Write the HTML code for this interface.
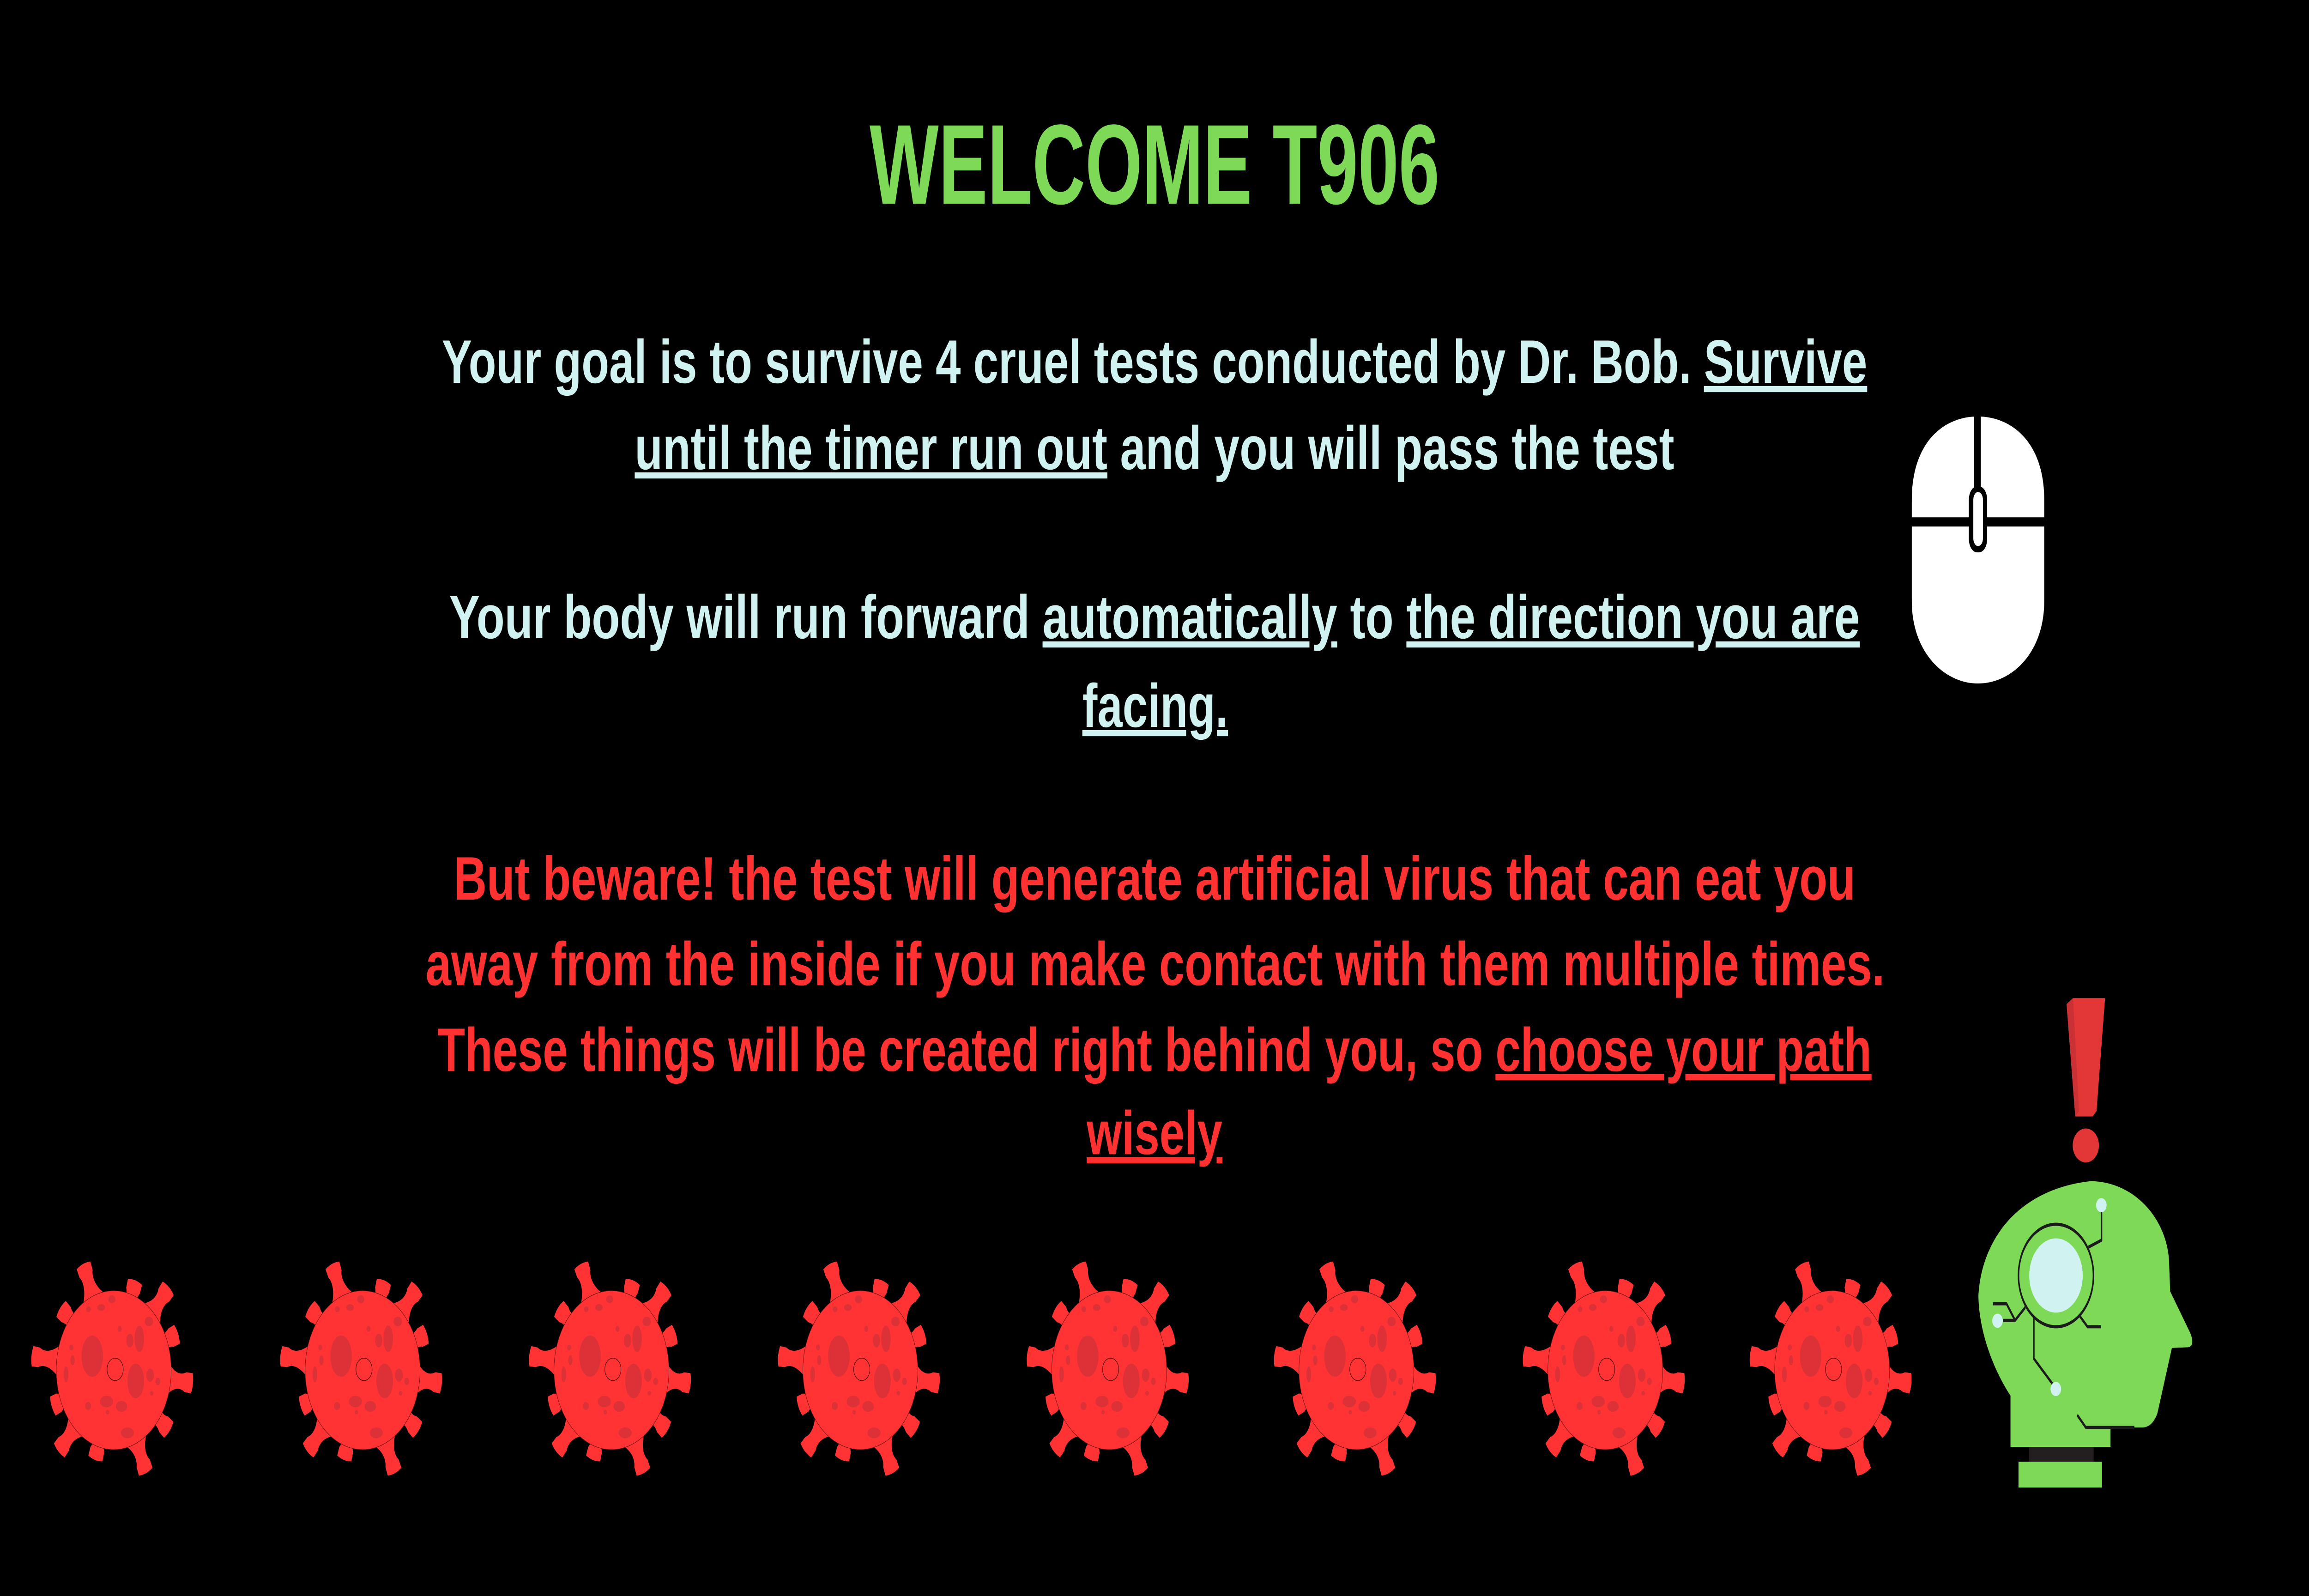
<!DOCTYPE html>
<html><head><meta charset="utf-8"><style>
html,body{margin:0;padding:0;background:#000;width:100%;height:100%;overflow:hidden;}
svg{display:block;width:100vw;height:100vh;}
text{font-family:"Liberation Sans",sans-serif;font-weight:bold;}
</style></head><body>
<svg viewBox="0 0 6912 3456" preserveAspectRatio="none" xmlns="http://www.w3.org/2000/svg">
<rect width="6912" height="3456" fill="#000"/>
<defs>
<g id="virus"></g>
</defs>
<text x="3456" y="441" text-anchor="middle" font-size="246" fill="#7ed957" textLength="1706" lengthAdjust="spacingAndGlyphs">WELCOME T906</text>
<g fill="#d0f2f0" font-size="133" text-anchor="middle">
<text x="3456" y="829" textLength="4267" lengthAdjust="spacingAndGlyphs">Your goal is to survive 4 cruel tests conducted by Dr. Bob. <tspan text-decoration="underline">Survive</tspan></text>
<text x="3456" y="1016" textLength="3112" lengthAdjust="spacingAndGlyphs"><tspan text-decoration="underline">until the timer run out</tspan> and you will pass the test</text>
</g>
<g fill="#d0f2f0" font-size="133" text-anchor="middle">
<text x="3456" y="1382" textLength="4223" lengthAdjust="spacingAndGlyphs">Your body will run forward <tspan text-decoration="underline">automatically</tspan> to <tspan text-decoration="underline">the direction you are</tspan></text>
<text x="3458" y="1574" textLength="436" lengthAdjust="spacingAndGlyphs" text-decoration="underline">facing.</text>
</g>
<g fill="#ff3131" font-size="133" text-anchor="middle">
<text x="3456" y="1948" textLength="4196" lengthAdjust="spacingAndGlyphs">But beware! the test will generate artificial virus that can eat you</text>
<text x="3458" y="2133" textLength="4368" lengthAdjust="spacingAndGlyphs">away from the inside if you make contact with them multiple times.</text>
<text x="3456" y="2319" textLength="4293" lengthAdjust="spacingAndGlyphs">These things will be created right behind you, so <tspan text-decoration="underline">choose your path</tspan></text>
<text x="3456" y="2499" textLength="406" lengthAdjust="spacingAndGlyphs" text-decoration="underline">wisely</text>
</g>
<g transform="translate(5650,850) scale(0.3508,0.4145)">
<path d="M208,560 C208,260 480,125 770,125 C1060,125 1338,260 1338,560 L1338,1090 C1338,1360 1060,1520 773,1520 C490,1520 208,1360 208,1090 Z" fill="#fff"/>
<rect x="740" y="120" width="57" height="380" fill="#000"/>
<rect x="205" y="652" width="1136" height="48" fill="#000"/>
<rect x="695" y="490" width="156" height="345" rx="70" fill="#000"/>
<rect x="733" y="520" width="82" height="282" rx="40" fill="#fff"/>
</g>
<g transform="translate(5800,2100) scale(0.5102,0.7653)">
<polygon points="757,97 795,80 983,80 933,400 910,415 808,415" fill="#e33737"/>
<polygon points="757,97 795,80 830,400 808,415" fill="#c93134"/>
<ellipse cx="870" cy="497" rx="77" ry="48" fill="#e33737"/>
<path d="M428,1350 L428,1205 C300,1110 240,1000 240,920 C260,760 480,620 900,598 C1150,600 1340,700 1358,820 L1365,910 L1485,1030 Q1510,1065 1470,1068 L1375,1070 L1290,1255 Q1260,1295 1200,1295 L1015,1295 L1015,1350 Z" fill="#7ed957"/>
<rect x="538" y="1350" width="378" height="42" fill="#231f20"/>
<rect x="475" y="1392" width="490" height="73" fill="#7ed957"/>
<g fill="none" stroke="#1b1b1b" stroke-width="9">
<ellipse cx="695" cy="865" rx="220" ry="145"/>
<polyline points="885,785 962,765 962,680"/>
<polyline points="515,955 455,992 385,992"/>
<polyline points="455,992 405,945 325,945"/>
<polyline points="565,985 565,1100 680,1175"/>
<polyline points="835,980 880,1010 960,1010"/>
<polyline points="820,1260 870,1295 1155,1295"/>
</g>
<ellipse cx="695" cy="865" rx="157" ry="105" fill="#d0f2f0"/>
<ellipse cx="961" cy="666" rx="31" ry="20" fill="#d0f2f0"/>
<ellipse cx="352" cy="993" rx="31" ry="20" fill="#d0f2f0"/>
<ellipse cx="694" cy="1186" rx="31" ry="20" fill="#d0f2f0"/>
</g>
<g id="viruses"></g>
<script>
var NS="http://www.w3.org/2000/svg";
var virusCenters=[344,1089,1834,2579,3324,4064,4809,5488];
var virusY=2967;
var tips=[[545,160],[980,260],[1260,300],[1335,580],[1460,880],[1265,1165],[1070,1420],[645,1340],[340,1290],[285,1020],[115,715],[355,425]];
var blotches=[[620,715,90,125],[985,865,70,105],[1015,610,40,80],[935,620,30,42],[740,990,55,35],[865,1020,48,33],[915,1180,55,33],[455,740,18,30],[400,825,20,48],[1105,830,32,40],[1095,505,35,30],[785,370,30,24],[695,420,32,20],[588,430,20,18],[445,662,17,18],[850,550,17,18],[1170,868,20,22],[1118,940,15,14],[585,1017,25,24],[748,1055,14,14]];
var vg=document.getElementById('virus');
var cx=810,cy=800;
tips.forEach(function(t){
  var a=Math.atan2(t[1]-cy,t[0]-cx)*180/Math.PI;
  var L=Math.hypot(t[0]-cx,t[1]-cy);
  var p=document.createElementNS(NS,'path');
  var m=L-60;
  p.setAttribute('d','M420,-140 C'+(m-120)+',-40 '+(m-40)+',-35 '+m+',-60 L'+(L-5)+',-62 Q'+(L+15)+',0 '+(L-5)+',62 L'+m+',60 C'+(m-40)+',35 '+(m-120)+',40 420,140 Z');
  p.setAttribute('fill','#ff3333');
  p.setAttribute('transform','translate('+cx+','+cy+') rotate('+a+')');
  vg.appendChild(p);
});
var body=document.createElementNS(NS,'circle');
body.setAttribute('cx',800);body.setAttribute('cy',800);body.setAttribute('r',482);
body.setAttribute('fill','#ff3333');body.setAttribute('stroke','#5a1010');body.setAttribute('stroke-width','3');
vg.appendChild(body);
blotches.forEach(function(b){
  var e=document.createElementNS(NS,'ellipse');
  e.setAttribute('cx',b[0]);e.setAttribute('cy',b[1]);e.setAttribute('rx',b[2]);e.setAttribute('ry',b[3]);
  e.setAttribute('fill','#dc3136');
  vg.appendChild(e);
});
var ring=document.createElementNS(NS,'circle');
ring.setAttribute('cx',812);ring.setAttribute('cy',795);ring.setAttribute('r',68);
ring.setAttribute('fill','none');ring.setAttribute('stroke','#3a0a0a');ring.setAttribute('stroke-width','4');
vg.appendChild(ring);
var row=document.getElementById('viruses');
virusCenters.forEach(function(x,i){
  var u=document.createElementNS(NS,'use');
  u.setAttribute('href','#virus');
  u.setAttribute('transform','translate('+x+','+virusY+') scale(0.357) translate(-810,-800)');
  
  
  row.appendChild(u);
});
</script>
</svg>
</body></html>
